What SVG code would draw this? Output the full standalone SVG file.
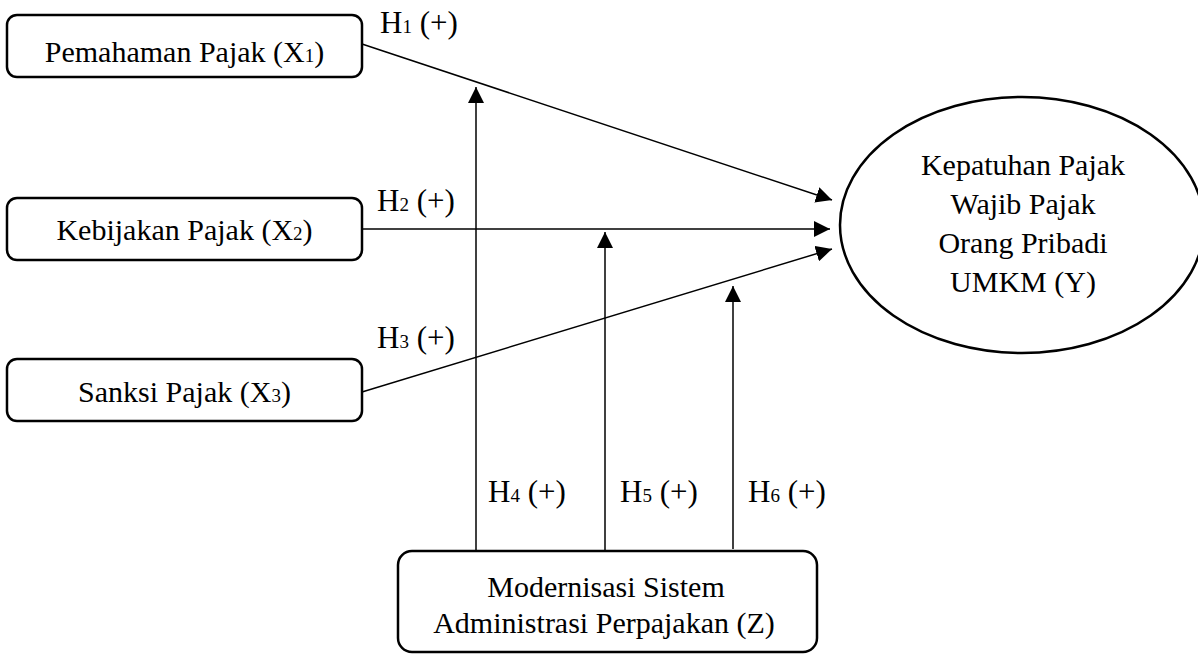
<svg xmlns="http://www.w3.org/2000/svg" width="1198" height="654" viewBox="0 0 1198 654">
<defs>
<marker id="ah" markerUnits="userSpaceOnUse" markerWidth="16" markerHeight="16" viewBox="0 0 16 16" refX="16" refY="8" orient="auto">
<path d="M0,0 L16,8 L0,16 Z" fill="#000"/>
</marker>
<style>
.box{fill:#fff;stroke:#000;stroke-width:2.5}
.ln{stroke:#000;stroke-width:1.5;fill:none;marker-end:url(#ah)}
.t{font-family:"Liberation Serif","Times New Roman",serif;font-size:30px;fill:#000;text-anchor:middle}
.l{font-family:"Liberation Serif","Times New Roman",serif;font-size:31px;fill:#000}
.s{font-size:19px}
</style>
</defs>
<g id="connectors">
<line class="ln" x1="362" y1="44" x2="832" y2="200"/>
<line class="ln" x1="362" y1="229" x2="830" y2="229"/>
<line class="ln" x1="362" y1="392" x2="832" y2="249"/>
<line class="ln" x1="476" y1="551" x2="476" y2="87"/>
<line class="ln" x1="605" y1="551" x2="605" y2="232"/>
<line class="ln" x1="733" y1="549" x2="733" y2="286"/>
<text class="l" x="380" y="33">H<tspan class="s">1</tspan> (+)</text>
<text class="l" x="377" y="211">H<tspan class="s">2</tspan> (+)</text>
<text class="l" x="377" y="348">H<tspan class="s">3</tspan> (+)</text>
<text class="l" x="488" y="502">H<tspan class="s">4</tspan> (+)</text>
<text class="l" x="620" y="502">H<tspan class="s">5</tspan> (+)</text>
<text class="l" x="748" y="502">H<tspan class="s">6</tspan> (+)</text>
</g>
<g id="x1">
<rect class="box" x="7" y="15" width="355" height="62" rx="10"/>
<text class="t" x="184.5" y="62">Pemahaman Pajak (X<tspan class="s">1</tspan>)</text>
</g>
<g id="x2">
<rect class="box" x="7" y="198" width="355" height="62" rx="10"/>
<text class="t" x="184.5" y="240">Kebijakan Pajak (X<tspan class="s">2</tspan>)</text>
</g>
<g id="x3">
<rect class="box" x="7" y="359" width="355" height="62" rx="10"/>
<text class="t" x="184.5" y="402">Sanksi Pajak (X<tspan class="s">3</tspan>)</text>
</g>
<g id="y">
<ellipse class="box" cx="1022" cy="225" rx="182" ry="128"/>
<text class="t" x="1023" y="175" font-size="31">Kepatuhan Pajak</text>
<text class="t" x="1023" y="214" font-size="31">Wajib Pajak</text>
<text class="t" x="1023" y="253" font-size="31">Orang Pribadi</text>
<text class="t" x="1023" y="292" font-size="31">UMKM (Y)</text>
</g>
<g id="z">
<rect class="box" x="398" y="551" width="419" height="101" rx="14"/>
<text class="t" x="606" y="597">Modernisasi Sistem</text>
<text class="t" x="604" y="633">Administrasi Perpajakan (Z)</text>
</g>
</svg>
